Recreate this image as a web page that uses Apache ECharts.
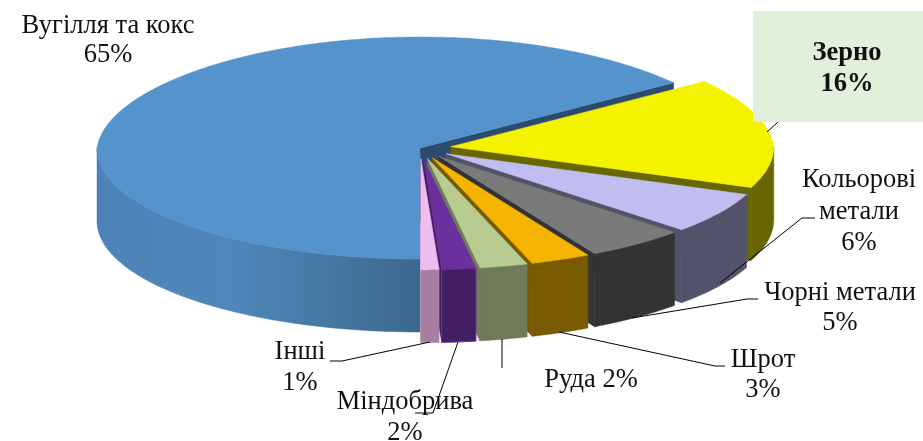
<!DOCTYPE html>
<html><head><meta charset="utf-8">
<style>html,body{margin:0;padding:0;background:#fff}#c{width:923px;height:441px}</style>
<script src="https://cdn.jsdelivr.net/npm/echarts@6/dist/echarts.min.js"></script>
</head><body><div id="c"></div>
<script>
// data: underlying shares; labels show them rounded
const categories = ['Вугілля та кокс','Зерно','Кольорові метали','Чорні метали','Шрот','Руда','Міндобрива','Інші'];
const shares = [65,16,6,5,3,2.4,1.7,0.9];
const exploded = [0,1,1,1,1,1,1,1];
// styling
const topColors = ['#5593CC','#F3F300','#C0BEF0','#7A7A7A','#F4B400','#B8CB90','#6B2F9E','#F0BCF0'];
const wallColors = ['#3F6F9C','#686600','#52526A','#333333','#785A00','#6E7A58','#421E62','#A680A2'];
const cutColors = ['#2B4A6E','#686600','#52526A','#333333','#785A00','#6E7A58','#421E62','#A680A2'];
// geometry of the 3D pie
const CX=420, CY=148, RX=323, RY=111, DEPTH=73, EXPLODE=31, START=180, PERSP=0.05;
const rad=d=>d*Math.PI/180;
function pt(cx,cy,a,r,dz){
  const nx=Math.sin(rad(a))*r, ny=-Math.cos(rad(a))*r;
  return [cx+nx*RX*(1+PERSP*Math.min(ny,0)), cy+ny*RY+(dz||0)];
}
function arc(cx,cy,a0,a1,dz){
  const out=[], n=Math.max(2,Math.ceil((a1-a0)/1));
  for(let i=0;i<=n;i++) out.push(pt(cx,cy,a0+(a1-a0)*i/n,1,dz));
  return out;
}
const total=shares.reduce((a,b)=>a+b,0);
const blueWall={type:'linear',x:97,y:0,x2:420,y2:0,global:true,colorStops:[
  {offset:0,color:'#4C82B7'},{offset:0.4,color:'#5088BC'},{offset:0.75,color:'#44769F'},{offset:1,color:'#3C688F'}]};

function renderSlice(params,api){
  const i=params.dataIndex;
  const v=api.value(1);
  let before=0; for(let k=0;k<i;k++) before+=shares[k];
  let a0=START+before/total*360;
  if(a0>=360) a0-=360;
  const a1=a0+v/total*360, mid=(a0+a1)/2;
  const off=exploded[i]*EXPLODE;
  const cx=CX+Math.sin(rad(mid))*off, cy=CY-Math.cos(rad(mid))*off*RY/RX;
  const kids=[];
  const poly=(points,fill,stroke)=>kids.push({type:'polygon',shape:{points},style:{fill,stroke:stroke||fill,lineWidth:stroke?1:0.5}});
  // clockwise-end cut wall
  const e=pt(cx,cy,a1,1,0), e2=pt(cx,cy,a1,1,DEPTH);
  poly([[cx,cy],e,e2,[cx,cy+DEPTH]],cutColors[i]);
  // outer wall: only the part facing the viewer
  const w0=Math.max(a0,90), w1=Math.min(a1,270);
  if(w1>w0){
    const t=arc(cx,cy,w0,w1,0), b=arc(cx,cy,w0,w1,DEPTH).reverse();
    poly(t.concat(b), i===0?blueWall:wallColors[i], i===6?topColors[i]:null);
  }
  // top face
  poly([[cx,cy]].concat(arc(cx,cy,a0,a1,0)),topColors[i]);
  return {type:'group',children:kids};
}

const labelLayout=[
  {i:0,x:108,y:[26,55]},
  {i:1,x:847,y:[53,84],bold:true},
  {i:2,x:859,y:[180,212,243],wrap:true},
  {i:3,x:840,y:[293,323]},
  {i:4,x:763,y:[360,390]},
  {i:5,x:591,y:[380],inline:true},
  {i:6,x:405,y:[402,433]},
  {i:7,x:300,y:[352,383]}
];
const leaders=[
  [[767,132],[778,122]],
  [[815,218],[802,218],[720,283]],
  [[758,299],[747,299],[632,318]],
  [[725,366],[715,366],[559,332]],
  [[502,339],[502,368]],
  [[458,342],[433,413],[415,413]],
  [[330,361],[342,361],[430,342]]
];
const FONT='"Liberation Serif","Times New Roman",serif';
const graphic=[];
graphic.push({type:'rect',shape:{x:753,y:11,width:170,height:111},style:{fill:'#E2EFDA'},z:5});
leaders.forEach(p=>graphic.push({type:'polyline',shape:{points:p},style:{stroke:'#000',lineWidth:1,fill:null},z:6}));
labelLayout.forEach(l=>{
  const name=categories[l.i], pct=Math.round(shares[l.i])+'%';
  const lines=l.inline?[name+' '+pct]:(l.wrap?name.split(' ').concat(pct):[name,pct]);
  lines.forEach((t,k)=>graphic.push({type:'text',x:l.x,y:l.y[k],z:7,style:{
    text:t,fill:'#111',font:(l.bold?'bold ':'')+'26.5px '+FONT,textAlign:'center',textVerticalAlign:'middle'}}));
});

const chart=echarts.init(document.getElementById('c'),null,{renderer:'canvas'});
chart.setOption({
  animation:false,
  backgroundColor:'#fff',
  graphic:graphic,
  series:[{type:'custom',coordinateSystem:'none',renderItem:renderSlice,
    data:categories.map((n,i)=>({name:n,value:[i,shares[i]]})),z:1}]
});
</script></body></html>
